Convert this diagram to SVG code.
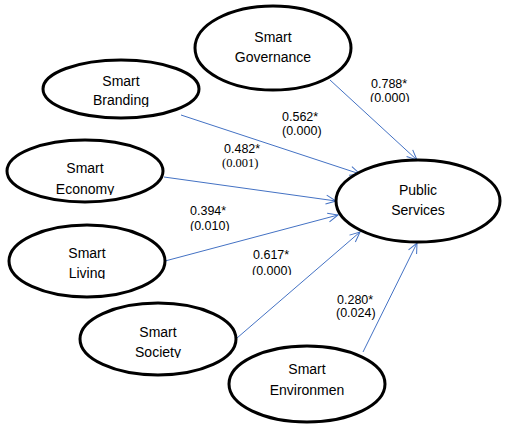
<svg xmlns="http://www.w3.org/2000/svg" width="511" height="433" viewBox="0 0 511 433">
<defs>
<style>
.node ellipse{fill:#fff;stroke:#000;stroke-width:3}
.nt{font-family:"Liberation Sans",Arial,sans-serif;font-size:14px;fill:#000;text-anchor:middle}
.lb{font-family:"Liberation Sans",Arial,sans-serif;font-size:12.5px;fill:#000}
.sf{font-family:"Liberation Serif","Times New Roman",serif}
.edges line{stroke:#4472C4;stroke-width:1;fill:none;marker-end:url(#arr)}
</style>
<marker id="arr" markerUnits="userSpaceOnUse" markerWidth="12" markerHeight="12" viewBox="0 0 12 12" refX="11" refY="6" orient="auto">
<path d="M1,1.5 L11,6 L1,10.5" fill="none" stroke="#4472C4" stroke-width="1"/>
</marker>
<clipPath id="cBr"><rect x="0" y="0" width="511" height="107"/></clipPath>
<clipPath id="cEc"><rect x="0" y="0" width="511" height="195"/></clipPath>
<clipPath id="cLi"><rect x="0" y="0" width="511" height="279"/></clipPath>
<clipPath id="cSo"><rect x="0" y="0" width="511" height="358"/></clipPath>
<clipPath id="c788"><rect x="0" y="0" width="511" height="102"/></clipPath>
<clipPath id="c394"><rect x="0" y="0" width="511" height="231"/></clipPath>
<clipPath id="c617"><rect x="0" y="0" width="511" height="275"/></clipPath>
</defs>
<rect width="511" height="433" fill="#fff"/>
<g class="edges" id="connectors">
<line x1="330" y1="80" x2="417" y2="160"/>
<line x1="181" y1="115" x2="360" y2="174"/>
<line x1="164" y1="177" x2="336" y2="201"/>
<line x1="165" y1="261" x2="338" y2="215"/>
<line x1="237" y1="338" x2="360" y2="232"/>
<line x1="363" y1="352" x2="417" y2="243"/>
</g>
<g class="node" id="governance">
<ellipse cx="273" cy="48" rx="78" ry="42"/>
<text class="nt" x="273" y="42">Smart</text>
<text class="nt" x="273" y="62">Governance</text>
</g>
<g class="node" id="branding">
<ellipse cx="121" cy="89" rx="78" ry="29"/>
<g clip-path="url(#cBr)">
<text class="nt" x="121" y="86">Smart</text>
<text class="nt" x="121" y="105">Branding</text>
</g>
</g>
<g class="node" id="economy">
<ellipse cx="85" cy="171" rx="78" ry="31"/>
<g clip-path="url(#cEc)">
<text class="nt" x="85" y="173">Smart</text>
<text class="nt" x="85" y="194">Economy</text>
</g>
</g>
<g class="node" id="living">
<ellipse cx="87" cy="261" rx="78" ry="36"/>
<g clip-path="url(#cLi)">
<text class="nt" x="87" y="258">Smart</text>
<text class="nt" x="87" y="278">Living</text>
</g>
</g>
<g class="node" id="society">
<ellipse cx="158" cy="339" rx="78" ry="36"/>
<g clip-path="url(#cSo)">
<text class="nt" x="158" y="337">Smart</text>
<text class="nt" x="158" y="357">Society</text>
</g>
</g>
<g class="node" id="environment">
<ellipse cx="307" cy="384" rx="78" ry="38"/>
<text class="nt" x="307" y="374">Smart</text>
<text class="nt" x="307" y="395">Environmen</text>
</g>
<g class="node" id="public">
<ellipse cx="418" cy="201" rx="82" ry="41"/>
<text class="nt" x="418" y="195">Public</text>
<text class="nt" x="418" y="215">Services</text>
</g>
<g id="labels">
<g clip-path="url(#c788)">
<text class="lb" x="371" y="88">0.788*</text>
<text class="lb" x="370" y="102">(0.000)</text>
</g>
<text class="lb" x="282" y="121">0.562*</text>
<text class="lb" x="282" y="135">(0.000)</text>
<text class="lb" x="224" y="153">0.482*</text>
<text class="lb sf" x="222" y="167">(0.001)</text>
<g clip-path="url(#c394)">
<text class="lb" x="190" y="215">0.394*</text>
<text class="lb" x="190" y="230">(0.010)</text>
</g>
<g clip-path="url(#c617)">
<text class="lb" x="253" y="259">0.617*</text>
<text class="lb" x="252" y="275">(0.000)</text>
</g>
<text class="lb" x="337" y="304">0.280*</text>
<text class="lb" x="336" y="317">(0.024)</text>
</g>
</svg>
